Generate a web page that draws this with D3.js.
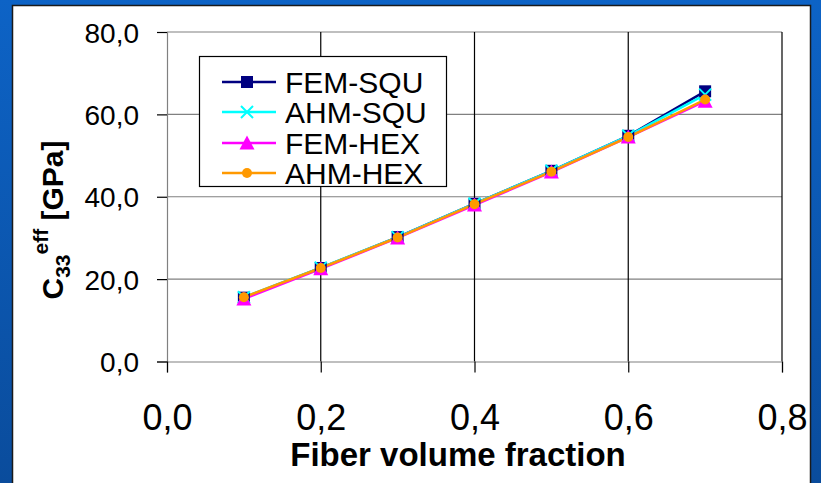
<!DOCTYPE html>
<html>
<head>
<meta charset="utf-8">
<script src="https://cdn.jsdelivr.net/npm/d3@7"></script>
<style>
  html, body { margin: 0; padding: 0; background: #0b57b0; }
  svg { display: block; font-family: Arial, "Liberation Sans", sans-serif; }
</style>
</head>
<body>
<svg id="chart" width="821" height="483"></svg>
<script>
// fiber volume fractions (x) and C33eff values in GPa
const fractions = [0.1, 0.2, 0.3, 0.4, 0.5, 0.6, 0.7];
const femSqu = [15.5, 22.7, 30.2, 38.3, 46.3, 54.8, 65.6];
const ahmSqu = [15.6, 22.8, 30.2, 38.3, 46.3, 54.8, 64.8];
const femHex = [15.2, 22.5, 30.0, 38.0, 46.0, 54.5, 63.2];
const ahmHex = [15.6, 22.7, 30.1, 38.2, 46.1, 54.5, 63.6];
const seriesNames = ["FEM-SQU", "AHM-SQU", "FEM-HEX", "AHM-HEX"];
const xTicks = [0, 0.2, 0.4, 0.6, 0.8];
const yTicks = [0, 20, 40, 60, 80];

const series = [
  { name: seriesNames[0], values: femSqu, colour: "#000080", marker: "square" },
  { name: seriesNames[1], values: ahmSqu, colour: "#00ffff", marker: "cross" },
  { name: seriesNames[2], values: femHex, colour: "#ff00ff", marker: "triangle" },
  { name: seriesNames[3], values: ahmHex, colour: "#ff9900", marker: "circle" }
];

const svg = d3.select("#chart");
const W = 821, H = 483;

// blue slide background
const defs = svg.append("defs");
const grad = defs.append("linearGradient").attr("id", "bg").attr("x1", 0).attr("y1", 0).attr("x2", 0).attr("y2", 1);
grad.append("stop").attr("offset", "0%").attr("stop-color", "#0d63c6");
grad.append("stop").attr("offset", "100%").attr("stop-color", "#0a4c9c");
svg.append("rect").attr("width", W).attr("height", H).attr("fill", "url(#bg)");

// white chart panel
svg.append("rect")
  .attr("x", 12.5).attr("y", 5.5)
  .attr("width", 798).attr("height", H + 10)
  .attr("fill", "#fff").attr("stroke", "#1a1a1a").attr("stroke-width", 1.5);

const plot = { left: 167, right: 782, top: 32, bottom: 361.5 };

const x = d3.scaleLinear().domain([0, 0.8]).range([plot.left, plot.right]);
const y = d3.scaleLinear().domain([0, 80]).range([plot.bottom, plot.top]);
const fmt = d => d3.format(".1f")(d).replace(".", ",");

// horizontal gridlines (grey)
svg.append("g")
  .selectAll("line").data(yTicks.filter(t => t > 0)).join("line")
  .attr("x1", plot.left).attr("x2", plot.right)
  .attr("y1", d => y(d)).attr("y2", d => y(d))
  .attr("stroke", "#808080").attr("stroke-width", 1.2);

// vertical gridlines (black)
svg.append("g")
  .selectAll("line").data(xTicks.filter(t => t > 0)).join("line")
  .attr("x1", d => x(d)).attr("x2", d => x(d))
  .attr("y1", plot.top).attr("y2", plot.bottom)
  .attr("stroke", "#000").attr("stroke-width", 1.2);

// axes
const yAxis = svg.append("g")
  .attr("transform", `translate(${plot.left},0)`)
  .call(d3.axisLeft(y).tickValues(yTicks).tickFormat(fmt).tickSize(10).tickPadding(18));
yAxis.select(".domain").attr("stroke", "#808080").attr("stroke-width", 1.2);
yAxis.selectAll(".tick line").attr("stroke", "#000").attr("stroke-width", 1.2);
yAxis.selectAll("text").attr("font-size", 28).attr("fill", "#000").attr("dy", "0.36em")
  .attr("font-family", "Arial, 'Liberation Sans', sans-serif");

const xAxis = svg.append("g")
  .attr("transform", `translate(0,${plot.bottom})`)
  .call(d3.axisBottom(x).tickValues(xTicks).tickFormat(fmt).tickSize(11).tickPadding(32));
xAxis.select(".domain").attr("stroke", "#808080").attr("stroke-width", 1.2);
xAxis.selectAll(".tick line").attr("stroke", "#000").attr("stroke-width", 1.2);
xAxis.selectAll("text").attr("font-size", 36).attr("fill", "#000")
  .attr("font-family", "Arial, 'Liberation Sans', sans-serif");

// axis titles
svg.append("text")
  .attr("x", 458).attr("y", 466)
  .attr("text-anchor", "middle")
  .attr("font-size", 33).attr("font-weight", "bold")
  .text("Fiber volume fraction");

const yTitle = svg.append("text")
  .attr("transform", "translate(63,220) rotate(-90)")
  .attr("text-anchor", "middle")
  .attr("font-size", 30).attr("font-weight", "bold");
yTitle.append("tspan").text("C");
yTitle.append("tspan").attr("font-size", 21).attr("dy", 7).text("33");
yTitle.append("tspan").attr("font-size", 21).attr("dy", -22).text("eff");
yTitle.append("tspan").attr("dy", 15).text(" [GPa]");

// marker drawing
function drawMarker(sel, kind, colour) {
  if (kind === "square") {
    sel.append("rect").attr("x", -6).attr("y", -6).attr("width", 12).attr("height", 12).attr("fill", colour);
  } else if (kind === "cross") {
    sel.append("path").attr("d", "M-6,-6L6,6M-6,6L6,-6")
      .attr("stroke", colour).attr("stroke-width", 2).attr("fill", "none");
  } else if (kind === "triangle") {
    sel.append("path").attr("d", "M0,-7.5L7.5,6.5L-7.5,6.5Z").attr("fill", colour);
  } else {
    sel.append("circle").attr("r", 5).attr("fill", colour);
  }
}

const line = d3.line().x(d => x(d[0])).y(d => y(d[1]));

series.forEach(s => {
  const pts = fractions.map((f, i) => [f, s.values[i]]);
  svg.append("path").datum(pts)
    .attr("d", line).attr("fill", "none")
    .attr("stroke", s.colour).attr("stroke-width", 2.5);
});
series.forEach(s => {
  const pts = fractions.map((f, i) => [f, s.values[i]]);
  svg.append("g").selectAll("g").data(pts).join("g")
    .attr("transform", d => `translate(${x(d[0])},${y(d[1])})`)
    .each(function () { drawMarker(d3.select(this), s.marker, s.colour); });
});

// legend
const legend = svg.append("g");
legend.append("rect")
  .attr("x", 199.5).attr("y", 56.5).attr("width", 247).attr("height", 130)
  .attr("fill", "#fff").attr("stroke", "#000").attr("stroke-width", 1.2);
const rowY = [82, 112, 143, 173];
series.forEach((s, i) => {
  const g = legend.append("g").attr("transform", `translate(0,${rowY[i]})`);
  g.append("line").attr("x1", 222).attr("x2", 276).attr("stroke", s.colour).attr("stroke-width", 2.5);
  drawMarker(g.append("g").attr("transform", "translate(247,0)"), s.marker, s.colour);
  g.append("text").attr("x", 285).attr("y", 11).attr("font-size", 30).attr("fill", "#000").text(s.name);
});
</script>
</body>
</html>
